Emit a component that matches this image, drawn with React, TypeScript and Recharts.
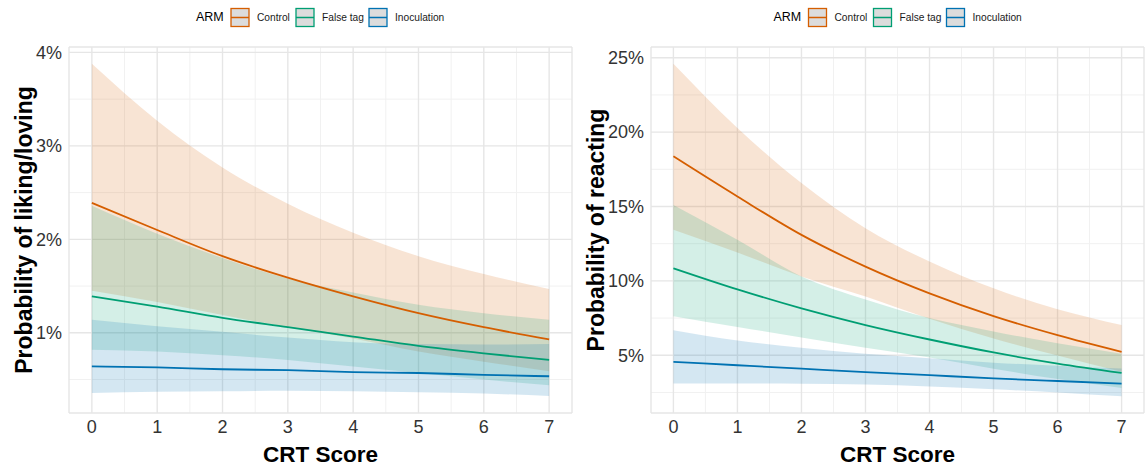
import React from "react";
import { ComposedChart, Area, Line, XAxis, YAxis, CartesianGrid } from "recharts";

const CRT = [0, 1, 2, 3, 4, 5, 6, 7];
const ARMS = ["Control", "False tag", "Inoculation"];
const ARM_COLORS = ["#D55E00", "#009E73", "#0072B2"];

// Panel 1: Probability of liking/loving (%)
const likeControl = [2.39, 2.1, 1.82, 1.59, 1.39, 1.21, 1.06, 0.93];
const likeControlLo = [1.45, 1.33, 1.19, 1.06, 0.94, 0.8, 0.69, 0.59];
const likeControlHi = [3.88, 3.27, 2.77, 2.38, 2.07, 1.82, 1.63, 1.47];
const likeFalse = [1.39, 1.28, 1.16, 1.06, 0.96, 0.86, 0.78, 0.71];
const likeFalseLo = [0.82, 0.8, 0.76, 0.71, 0.64, 0.57, 0.5, 0.44];
const likeFalseHi = [2.36, 2.06, 1.8, 1.58, 1.43, 1.3, 1.21, 1.14];
const likeInoc = [0.64, 0.63, 0.61, 0.6, 0.58, 0.57, 0.55, 0.535];
const likeInocLo = [0.355, 0.37, 0.375, 0.38, 0.375, 0.365, 0.35, 0.325];
const likeInocHi = [1.14, 1.07, 1.01, 0.95, 0.9, 0.88, 0.875, 0.88];

// Panel 2: Probability of reacting (%)
const reactControl = [18.37, 15.67, 13.09, 10.96, 9.16, 7.63, 6.35, 5.23];
const reactControlLo = [13.43, 11.9, 10.3, 8.95, 7.45, 6.13, 4.98, 3.89];
const reactControlHi = [24.6, 20.28, 16.58, 13.54, 11.3, 9.5, 8.09, 7.03];
const reactFalse = [10.85, 9.43, 8.15, 7.03, 6.06, 5.19, 4.44, 3.81];
const reactFalseLo = [7.63, 6.9, 6.2, 5.5, 4.85, 4.1, 3.4, 2.8];
const reactFalseHi = [15.1, 12.76, 10.3, 8.75, 7.5, 6.6, 5.8, 5.1];
const reactInoc = [4.56, 4.33, 4.1, 3.87, 3.66, 3.45, 3.27, 3.1];
const reactInocLo = [3.1, 3.1, 3.08, 3.03, 2.9, 2.72, 2.5, 2.24];
const reactInocHi = [6.69, 6.0, 5.5, 5.1, 4.8, 4.5, 4.3, 4.11];

const X_TICKS = [0, 1, 2, 3, 4, 5, 6, 7];
const X_MINOR = [0.5, 1.5, 2.5, 3.5, 4.5, 5.5, 6.5];
const X_DOMAIN: [number, number] = [-0.35, 7.35];
const LIKE_TICKS = [1, 2, 3, 4];
const LIKE_MINOR = [0.5, 1.5, 2.5, 3.5];
const REACT_TICKS = [5, 10, 15, 20, 25];
const REACT_MINOR = [2.5, 7.5, 12.5, 17.5, 22.5];

const FONT = "'Liberation Sans', Arial, Helvetica, sans-serif";

function buildRows(m: number[][]) {
  return CRT.map((x, i) => ({
    x,
    c: m[0][i], cLo: m[1][i], cHi: m[2][i],
    f: m[3][i], fLo: m[4][i], fHi: m[5][i],
    n: m[6][i], nLo: m[7][i], nHi: m[8][i],
  }));
}

const likeRows = buildRows([
  likeControl, likeControlLo, likeControlHi,
  likeFalse, likeFalseLo, likeFalseHi,
  likeInoc, likeInocLo, likeInocHi,
]);
const reactRows = buildRows([
  reactControl, reactControlLo, reactControlHi,
  reactFalse, reactFalseLo, reactFalseHi,
  reactInoc, reactInocLo, reactInocHi,
]);

// map a value through the axis scale handed to the grid generator
function mapThrough(axis: any, v: number, fallback: () => number): number {
  const s = axis && axis.scale;
  try {
    if (typeof s === "function") {
      const r = s(v);
      if (Number.isFinite(r)) return r;
    }
    if (s && typeof s.map === "function") {
      const r = s.map(v);
      if (Number.isFinite(r)) return r;
    }
    if (s && typeof s.scale === "function") {
      const r = s.scale(v);
      if (Number.isFinite(r)) return r;
    }
  } catch (e) {
    // ignore
  }
  return fallback();
}

function LegendBox({ cx }: { cx: number }) {
  const keyX = [-89, -24, 49];
  const txtX = [-63, 2, 75];
  return (
    <g fontFamily={FONT}>
      <text x={cx - 124} y={17} dominantBaseline="central" fontSize={12.5} fill="#000">ARM</text>
      {ARMS.map((a, i) => (
        <g key={a}>
          <rect x={cx + keyX[i]} y={8.5} width={18} height={18} fill="#DCDCDC" stroke={ARM_COLORS[i]} strokeWidth={1.3} />
          <line x1={cx + keyX[i]} x2={cx + keyX[i] + 18} y1={17.5} y2={17.5} stroke={ARM_COLORS[i]} strokeWidth={1.5} />
          <text x={cx + txtX[i]} y={17} dominantBaseline="central" fontSize={10.2} fill="#1a1a1a">{a}</text>
        </g>
      ))}
    </g>
  );
}

type PanelProps = {
  rows: any[];
  width: number;
  yAxisWidth: number;
  domain: [number, number];
  ticks: number[];
  minor: number[];
  title: string;
  titleX: number;
};

function Panel({ rows, width, yAxisWidth, domain, ticks, minor, title, titleX }: PanelProps) {
  const bandOpacity = 0.17;
  return (
    <ComposedChart
      width={width}
      height={466}
      data={rows}
      margin={{ top: 47, right: 3, bottom: 0, left: 0 }}
      style={{ fontFamily: FONT }}
    >
      <CartesianGrid
        stroke="#F1F1F1"
        strokeWidth={1}
        horizontalCoordinatesGenerator={(p: any) =>
          minor.map((v) =>
            mapThrough(p.yAxis, v, () => p.offset.top + (p.offset.height * (domain[1] - v)) / (domain[1] - domain[0]))
          )
        }
        verticalCoordinatesGenerator={(p: any) =>
          X_MINOR.map((v) =>
            mapThrough(p.xAxis, v, () => p.offset.left + (p.offset.width * (v - X_DOMAIN[0])) / (X_DOMAIN[1] - X_DOMAIN[0]))
          )
        }
      />
      <CartesianGrid stroke="#E6E6E6" strokeWidth={1.4} />
      <XAxis
        dataKey="x"
        type="number"
        domain={X_DOMAIN}
        ticks={X_TICKS}
        height={53}
        axisLine={false}
        tickLine={false}
        tickSize={0}
        tickMargin={7}
        tick={{ fontSize: 18, fill: "#333", fontFamily: FONT }}
        label={{
          content: (p: any) => {
            const vb = p.viewBox;
            return (
              <text x={vb.x + vb.width / 2} y={vb.y + 41} textAnchor="middle" dominantBaseline="central"
                fontSize={22.5} fontWeight="bold" fill="#000" fontFamily={FONT}>CRT Score</text>
            );
          },
        }}
      />
      <YAxis
        type="number"
        domain={domain}
        ticks={ticks}
        width={yAxisWidth}
        axisLine={false}
        tickLine={false}
        tickSize={0}
        tickMargin={7}
        allowDataOverflow
        tickFormatter={(v: number) => `${v}%`}
        tick={{ fontSize: 18, fill: "#333", fontFamily: FONT }}
        label={{
          content: (p: any) => {
            const vb = p.viewBox;
            const cy = vb.y + vb.height / 2;
            return (
              <text x={titleX} y={cy} transform={`rotate(-90 ${titleX} ${cy})`} textAnchor="middle"
                dominantBaseline="central" fontSize={23} fontWeight="bold" fill="#000" fontFamily={FONT}>{title}</text>
            );
          },
        }}
      />
      <Area type="monotone" dataKey={(d: any) => [d.cLo, d.cHi]} stroke="none" fill={ARM_COLORS[0]} fillOpacity={bandOpacity} isAnimationActive={false} activeDot={false} dot={false} />
      <Area type="monotone" dataKey={(d: any) => [d.fLo, d.fHi]} stroke="none" fill={ARM_COLORS[1]} fillOpacity={bandOpacity} isAnimationActive={false} activeDot={false} dot={false} />
      <Area type="monotone" dataKey={(d: any) => [d.nLo, d.nHi]} stroke="none" fill={ARM_COLORS[2]} fillOpacity={bandOpacity} isAnimationActive={false} activeDot={false} dot={false} />
      <Line type="monotone" dataKey="c" stroke={ARM_COLORS[0]} strokeWidth={1.8} dot={false} activeDot={false} isAnimationActive={false} />
      <Line type="monotone" dataKey="f" stroke={ARM_COLORS[1]} strokeWidth={1.8} dot={false} activeDot={false} isAnimationActive={false} />
      <Line type="monotone" dataKey="n" stroke={ARM_COLORS[2]} strokeWidth={1.8} dot={false} activeDot={false} isAnimationActive={false} />
    </ComposedChart>
  );
}

export default function App() {
  return (
    <div style={{ position: "absolute", left: 0, top: 0, width: 1147, height: 466, background: "#fff", overflow: "hidden" }}>
      <div style={{ position: "absolute", left: 0, top: 0 }}>
        <Panel rows={likeRows} width={575} yAxisWidth={69} domain={[0.142, 4.058]} ticks={LIKE_TICKS}
          minor={LIKE_MINOR} title="Probability of liking/loving" titleX={24} />
      </div>
      <div style={{ position: "absolute", left: 580, top: 0 }}>
        <Panel rows={reactRows} width={567} yAxisWidth={71} domain={[1.12, 25.72]} ticks={REACT_TICKS}
          minor={REACT_MINOR} title="Probability of reacting" titleX={16} />
      </div>
      <svg style={{ position: "absolute", left: 0, top: 0 }} width={1147} height={40}>
        <LegendBox cx={320} />
        <LegendBox cx={897.5} />
      </svg>
    </div>
  );
}
